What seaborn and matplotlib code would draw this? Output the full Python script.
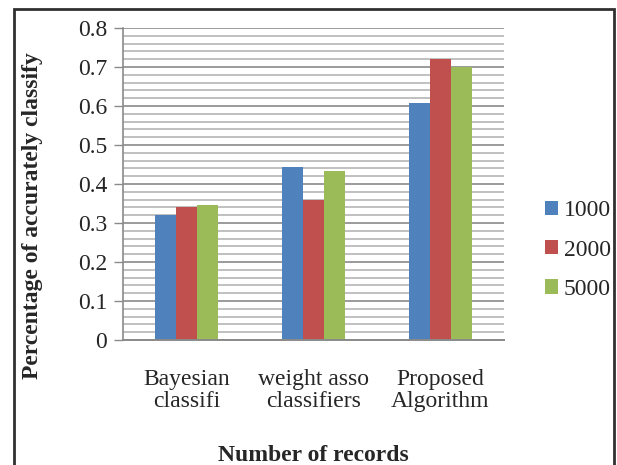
import matplotlib
matplotlib.use("Agg")
import matplotlib.pyplot as plt
import seaborn as sns
import pandas as pd
import numpy as np
from matplotlib.patches import Rectangle, Patch
from matplotlib.ticker import MultipleLocator

# Accuracy of each classifier for different numbers of records
categories = ["Bayesian\nclassifi", "weight asso\nclassifiers", "Proposed\nAlgorithm"]
series = ["1000", "2000", "5000"]
acc_1000 = [0.32, 0.443, 0.607]
acc_2000 = [0.341, 0.36, 0.72]
acc_5000 = [0.346, 0.433, 0.70]
colors = ["#4F81BD", "#C0504D", "#9BBB59"]

df = pd.DataFrame({
    "method": categories * 3,
    "records": [s for s in series for _ in categories],
    "accuracy": acc_1000 + acc_2000 + acc_5000,
})

sns.set_theme(style="white")
plt.rcParams["font.family"] = ["Liberation Serif", "DejaVu Serif"]

FS = 17

fig = plt.figure(figsize=(6.17, 4.65), dpi=100)
ax = fig.add_axes([123 / 617, 1 - 340 / 465, (504 - 123) / 617, (340 - 28) / 465])

sns.barplot(data=df, x="method", y="accuracy", hue="records", order=categories,
            hue_order=series, palette=colors, width=0.5, gap=0, linewidth=0,
            saturation=1, ax=ax, legend=False, errorbar=None)

ax.set_ylim(0, 0.8)
ax.set_xlim(-0.5, 2.5)
ax.yaxis.set_minor_locator(MultipleLocator(0.02))
ax.set_yticks(np.round(np.arange(0, 0.81, 0.1), 1))
ax.set_yticklabels(["0"] + [f"{v:.1f}" for v in np.arange(0.1, 0.81, 0.1)])
ax.grid(True, which="major", axis="y", color="#8a8a8a", linewidth=1.2)
ax.grid(True, which="minor", axis="y", color="#b5b5b5", linewidth=1.2)
ax.set_axisbelow(True)

for side in ("top", "right"):
    ax.spines[side].set_visible(False)
ax.spines["left"].set_color("#8a8a8a")
ax.spines["bottom"].set_color("#8a8a8a")
ax.spines["left"].set_linewidth(1.2)
ax.spines["bottom"].set_linewidth(1.4)

ax.tick_params(axis="y", which="major", left=True, length=6.5, width=1.0,
               color="#8a8a8a", labelsize=FS, pad=5)
ax.tick_params(axis="y", which="minor", left=False)
ax.tick_params(axis="x", bottom=False, labelsize=FS, pad=15)
for lab in ax.get_xticklabels():
    lab.set_linespacing(1.05)

ax.set_xlabel("Number of records", fontsize=FS, fontweight="bold", labelpad=24)
ax.set_ylabel("Percentage of accurately classify", fontsize=FS, fontweight="bold")
ax.yaxis.set_label_coords(-0.21, 0.40)

handles = [Patch(facecolor=c, edgecolor="none") for c in colors]
ax.legend(handles, series, loc="center left", bbox_to_anchor=(545 / 617, 1 - 250 / 465),
          bbox_transform=fig.transFigure, frameon=False, fontsize=FS,
          handlelength=0.55, handleheight=0.55, handletextpad=0.25,
          labelspacing=0.78, borderaxespad=0, borderpad=0)

# Outer frame around the figure
fig.patches.append(Rectangle((14 / 617, -0.02), 600 / 617, 1.02 - 9 / 465,
                             transform=fig.transFigure, fill=False,
                             edgecolor="#303030", linewidth=2.0))

fig.savefig("out.png", dpi=100)
